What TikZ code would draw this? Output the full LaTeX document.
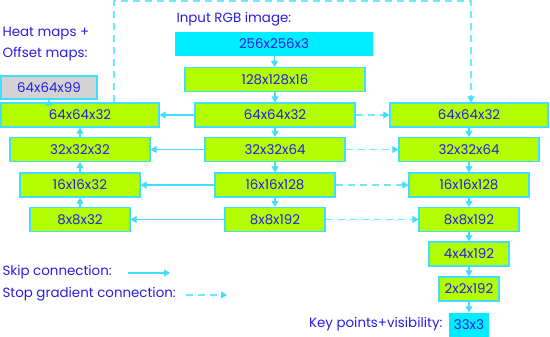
\documentclass[tikz,border=0pt]{standalone}
\usepackage{fontspec}
\setmainfont{Poppins}
\usetikzlibrary{arrows.meta}
\definecolor{layergreen}{RGB}{179,255,0}
\definecolor{edgecyan}{RGB}{64,222,255}
\definecolor{dashcyan}{RGB}{110,232,255}
\definecolor{inputcyan}{RGB}{0,238,255}
\definecolor{labelblue}{RGB}{42,28,228}
\definecolor{headgray}{RGB}{211,211,211}

\begin{document}
\begin{tikzpicture}[x=1pt,y=-1pt,
        font=\fontsize{13.4}{15}\selectfont,
        every node/.style={text=labelblue},
        layer/.style={draw=edgecyan, line width=1.2pt, fill=layergreen, minimum height=24pt, inner sep=0pt},
        inputbox/.style={fill=inputcyan, minimum height=24pt, inner sep=0pt},
        headbox/.style={draw=edgecyan, line width=1.2pt, fill=headgray, minimum height=23pt, inner sep=0pt},
        skip/.style={draw=edgecyan, line width=1.1pt, -{Triangle[width=7pt,length=6pt]}},
        stopgrad/.style={draw=dashcyan, line width=1.1pt, dash pattern=on 7pt off 5pt, -{Triangle[width=7pt,length=6pt,color=edgecyan]}}]
        \useasboundingbox (0,0) rectangle (550,337);

        \node[anchor=west] (inlbl) at (173,19) {Input RGB image:};
        \node[anchor=west] (heatlbl) at (-1,34) {Heat maps +};
        \node[anchor=west] (offlbl) at (-1,54) {Offset maps:};

        \node[inputbox, minimum width=198pt] (in) at (274,44) {256x256x3};
        \node[layer, minimum width=180pt] (c128) at (275,79.5) {128x128x16};
        \node[layer, minimum width=160pt] (c64) at (275,115) {64x64x32};
        \node[layer, minimum width=140pt] (c32) at (275,149.5) {32x32x64};
        \node[layer, minimum width=120pt] (c16) at (275,185) {16x16x128};
        \node[layer, minimum width=100pt] (c8) at (275,219.5) {8x8x192};

        \node[headbox, minimum width=96pt] (heat) at (49,87.5) {64x64x99};
        \node[layer, minimum width=158pt] (l64) at (80,115) {64x64x32};
        \node[layer, minimum width=140pt] (l32) at (80,149.5) {32x32x32};
        \node[layer, minimum width=120pt] (l16) at (80,185) {16x16x32};
        \node[layer, minimum width=100pt] (l8) at (80,219.5) {8x8x32};

        \node[layer, minimum width=158pt] (r64) at (469,115) {64x64x32};
        \node[layer, minimum width=140pt] (r32) at (469,149.5) {32x32x64};
        \node[layer, minimum width=120pt] (r16) at (469,185) {16x16x128};
        \node[layer, minimum width=100pt] (r8) at (469,219.5) {8x8x192};
        \node[layer, minimum width=80pt] (r4) at (469,254) {4x4x192};
        \node[layer, minimum width=60pt] (r2) at (469,289) {2x2x192};
        \node[inputbox, minimum width=40pt] (kp) at (469,324.5) {33x3};
        \node[anchor=east] (kplbl) at (446,324) {Key points+visibility:};

        \draw[skip] (in) -- (c128);
        \draw[skip] (c128) -- (c64);
        \draw[skip] (c64) -- (c32);
        \draw[skip] (c32) -- (c16);
        \draw[skip] (c16) -- (c8);

        \draw[skip] (c64) -- (l64);
        \draw[skip] (c32) -- (l32);
        \draw[skip] (c16) -- (l16);
        \draw[skip] (c8) -- (l8);

        \draw[skip] (l8) -- (l16);
        \draw[skip] (l16) -- (l32);
        \draw[skip] (l32) -- (l64);
        \draw[skip] (l64.north -| heat) -- (heat);

        \draw[stopgrad] (c64) -- (r64);
        \draw[stopgrad] (c32) -- (r32);
        \draw[stopgrad] (c16) -- (r16);
        \draw[stopgrad] (c8) -- (r8);

        \draw[skip] (r64) -- (r32);
        \draw[skip] (r32) -- (r16);
        \draw[skip] (r16) -- (r8);
        \draw[skip] (r8) -- (r4);
        \draw[skip] (r4) -- (r2);
        \draw[skip] (r2) -- (kp);

        \coordinate (tl) at (114,1);
        \coordinate (tr) at (471,1);
        \draw[stopgrad] (l64.north -| tl) -- (tl) -- (tr) -- (r64.north -| tr);

        \node[anchor=west] (skiplbl) at (-1,272) {Skip connection:};
        \coordinate (skipa) at (128,273);
        \coordinate (skipb) at (170,273);
        \draw[skip] (skipa) -- (skipb);
        \node[anchor=west] (stoplbl) at (-1,294) {Stop gradient connection:};
        \coordinate (stopa) at (186,295);
        \coordinate (stopb) at (227,295);
        \draw[stopgrad] (stopa) -- (stopb);
    \end{tikzpicture}
\end{document}
